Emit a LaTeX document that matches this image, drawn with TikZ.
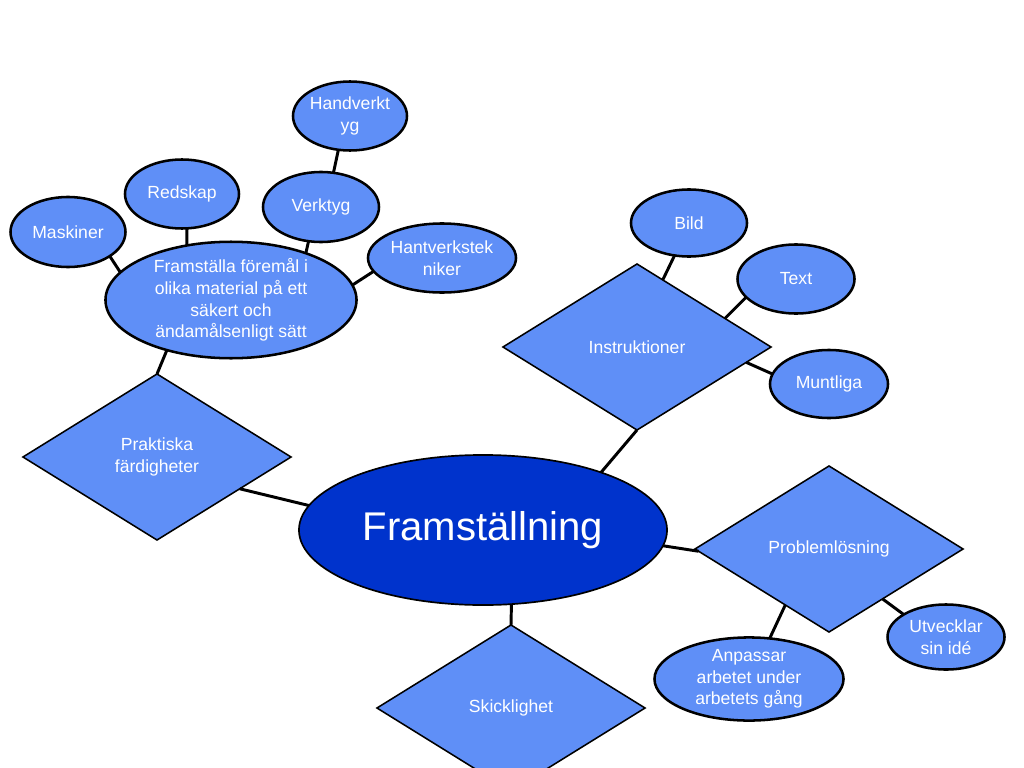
\documentclass[tikz,border=0pt]{standalone}
\usepackage{fontspec}
\setmainfont{Liberation Sans}
\usetikzlibrary{shapes.geometric}
\definecolor{lightblue}{HTML}{5F8FF7}
\definecolor{darkblue}{HTML}{0033CC}

\begin{document}
\begin{tikzpicture}[x=0.025cm, y=-0.025cm,
  bubble/.style={ellipse, draw=black, line width=1.8pt, fill=lightblue, text=white,
    inner sep=0pt, outer sep=0pt, align=center, font=\fontsize{12.5}{15.3}\selectfont},
  rhomb/.style={diamond, draw=black, line width=1.1pt, fill=lightblue, text=white,
    inner sep=0pt, outer sep=0pt, align=center, minimum width=6.7cm, minimum height=4.15cm,
    font=\fontsize{12.5}{15.3}\selectfont},
  link/.style={draw=black, line width=2.1pt}]
% Page frame (1024 x 768)
\clip (0,0) rectangle (1024,768);
\fill[white] (0,0) rectangle (1024,768);

% Centre
\node[ellipse, draw=black, line width=1.2pt, fill=darkblue, text=white, inner sep=0pt, outer sep=0pt,
  minimum width=9.2cm, minimum height=3.75cm, font=\fontsize{28.5}{34}\selectfont] (fram) at (483,530) {Framställning};

% Diamonds
\node[rhomb] (praktiska) at (157,457) {Praktiska\\färdigheter};
\node[rhomb] (instr) at (637,347) {Instruktioner};
\node[rhomb] (problem) at (829,549) {Problemlösning};
\node[rhomb] (skicklighet) at (511,708) {Skicklighet};

% Ellipses round Praktiska färdigheter
\node[bubble, minimum width=6.275cm, minimum height=2.825cm] (foremal) at (231,300)
  {Framställa föremål i\\olika material på ett\\säkert och\\ändamålsenligt sätt};
\node[bubble, minimum width=2.875cm, minimum height=1.75cm] (maskiner) at (68,232) {Maskiner};
\node[bubble, minimum width=2.85cm, minimum height=1.725cm] (redskap) at (182,194) {Redskap};
\node[bubble, minimum width=2.9cm, minimum height=1.75cm] (verktyg) at (321,207) {Verktyg};
\node[bubble, minimum width=2.85cm, minimum height=1.725cm] (handverktyg) at (350,116) {Handverkt\\yg};
\node[bubble, minimum width=3.7cm, minimum height=1.725cm] (hantverk) at (442,258) {Hantverkstek\\niker};

% Ellipses round Instruktioner
\node[bubble, minimum width=2.9cm, minimum height=1.675cm] (bild) at (689,223) {Bild};
\node[bubble, minimum width=2.925cm, minimum height=1.725cm] (txt) at (796,279) {Text};
\node[bubble, minimum width=2.95cm, minimum height=1.7cm] (muntliga) at (829,384) {Muntliga};

% Ellipses round Problemlösning
\node[bubble, minimum width=2.925cm, minimum height=1.625cm] (utvecklar) at (946,637) {Utvecklar\\sin idé};
\node[bubble, minimum width=4.725cm, minimum height=1.95cm] (anpassar) at (749,679) {Anpassar\\arbetet under\\arbetets gång};

% Connectors
\draw[link] (praktiska.339.5) -- (fram.172.5);
\draw[link] (instr.south) -- (fram.26);
\draw[link] (fram.355) -- (problem.181);
\draw[link] (fram.291) -- (skicklighet.north);
\draw[link] (praktiska.north) -- (foremal.218);
\draw[link] (maskiner.330) -- (foremal.166);
\draw[link] (redskap.278) -- (foremal.129);
\draw[link] (verktyg.250) -- (foremal.32);
\draw[link] (handverktyg.251) -- (verktyg.70);
\draw[link] (hantverk.191) -- (foremal.7.5);
\draw[link] (bild.246.5) -- (instr.69.4);
\draw[link] (txt.200.5) -- (instr.18.8);
\draw[link] (instr.352.4) -- (muntliga.170);
\draw[link] (problem.317.7) -- (utvecklar.152);
\draw[link] (anpassar.63.4) -- (problem.232.2);
\end{tikzpicture}
\end{document}
